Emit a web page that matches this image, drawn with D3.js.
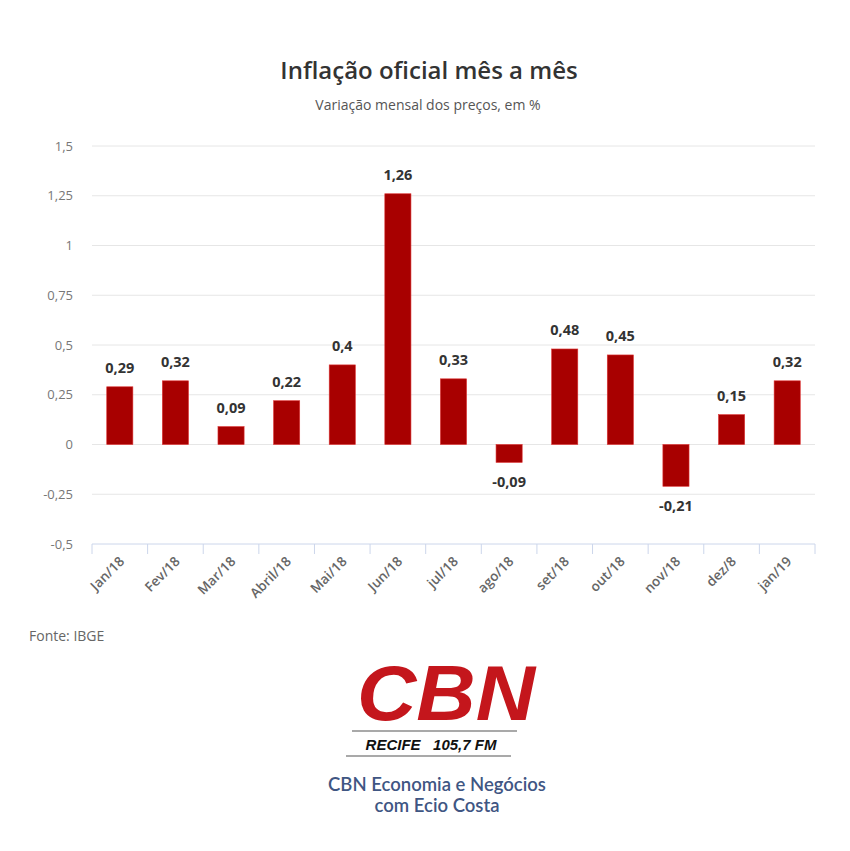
<!DOCTYPE html>
<html>
<head>
<meta charset="utf-8">
<script src="https://d3js.org/d3.v7.min.js"></script>
<style>
  body { margin: 0; background: #fff; }
  svg { display: block; }
</style>
</head>
<body>
<div id="chart"></div>
<script>
const months = ["Jan/18", "Fev/18", "Mar/18", "Abril/18", "Mai/18", "Jun/18", "jul/18",
                "ago/18", "set/18", "out/18", "nov/18", "dez/8", "jan/19"];
const ipca = [0.29, 0.32, 0.09, 0.22, 0.4, 1.26, 0.33, -0.09, 0.48, 0.45, -0.21, 0.15, 0.32];
const yTicks = [-0.5, -0.25, 0, 0.25, 0.5, 0.75, 1, 1.25, 1.5];

const width = 850, height = 851;
const margins = { l: 92, r: 35, t: 146, b: 307 };
const chartWidth = width - margins.l - margins.r;
const chartHeight = height - margins.t - margins.b;

const fmt = v => String(v).replace(".", ",");
const font = "'Open Sans', 'Noto Sans', sans-serif";

const svg = d3.select("#chart").append("svg")
    .attr("width", width)
    .attr("height", height);

// titles
svg.append("text")
    .attr("x", 429).attr("y", 79)
    .attr("text-anchor", "middle")
    .style("font-family", font)
    .style("font-size", "24px")
    .style("font-weight", 600)
    .attr("fill", "#333")
    .text("Inflação oficial mês a mês");

svg.append("text")
    .attr("x", 428).attr("y", 110)
    .attr("text-anchor", "middle")
    .style("font-family", font)
    .style("font-size", "14px")
    .attr("fill", "#555")
    .text("Variação mensal dos preços, em %");

const g = svg.append("g")
    .attr("transform", `translate(${margins.l},${margins.t})`);

const x = d3.scaleBand().domain(months).range([0, chartWidth]).paddingInner(0.53).paddingOuter(0.265);
const y = d3.scaleLinear().domain([-0.5, 1.5]).range([chartHeight, 0]);

// gridlines
g.append("g")
    .selectAll("line")
    .data(yTicks.filter(t => t !== -0.5))
    .enter().append("line")
    .attr("x1", 0).attr("x2", chartWidth)
    .attr("y1", d => y(d)).attr("y2", d => y(d))
    .attr("stroke", "#e6e6e6")
    .attr("stroke-width", 1);

// y axis labels
const yAxis = g.append("g")
    .call(d3.axisLeft(y).tickValues(yTicks).tickFormat(fmt).tickSize(0).tickPadding(19));
yAxis.select(".domain").remove();
yAxis.selectAll("text")
    .style("font-family", font)
    .style("font-size", "13px")
    .attr("fill", "#777");

// x axis
const xStep = x.step();
const xAxis = g.append("g")
    .attr("transform", `translate(0,${chartHeight})`);
xAxis.append("line")
    .attr("x1", 0).attr("x2", chartWidth)
    .attr("stroke", "#ccd6eb");
xAxis.selectAll(".tick-mark")
    .data(d3.range(months.length + 1))
    .enter().append("line")
    .attr("class", "tick-mark")
    .attr("x1", i => i * xStep).attr("x2", i => i * xStep)
    .attr("y1", 0).attr("y2", 10)
    .attr("stroke", "#ccd6eb");
xAxis.selectAll(".xlabel")
    .data(months)
    .enter().append("text")
    .attr("class", "xlabel")
    .attr("transform", d => `translate(${x(d) + x.bandwidth() / 2 + 2},${15}) rotate(-45)`)
    .attr("text-anchor", "end")
    .attr("dy", "0.35em")
    .style("font-family", font)
    .style("font-size", "13.5px")
    .style("font-weight", 600)
    .attr("fill", "#666")
    .text(d => d);

// bars
const bars = months.map((m, i) => ({ month: m, value: ipca[i] }));
g.selectAll(".bar")
    .data(bars)
    .enter().append("rect")
    .attr("class", "bar")
    .attr("x", d => x(d.month))
    .attr("y", d => y(Math.max(0, d.value)))
    .attr("width", x.bandwidth())
    .attr("height", d => Math.abs(y(d.value) - y(0)))
    .attr("fill", "#a80000")
    .attr("stroke", "#d33")
    .attr("stroke-width", 0.6);

// data labels
g.selectAll(".val")
    .data(bars)
    .enter().append("text")
    .attr("class", "val")
    .attr("x", d => x(d.month) + x.bandwidth() / 2)
    .attr("y", d => d.value >= 0 ? y(d.value) - 14 : y(d.value) + 25)
    .attr("text-anchor", "middle")
    .style("font-family", font)
    .style("font-size", "14.5px")
    .style("font-weight", 700)
    .attr("fill", "#333")
    .text(d => fmt(d.value));

// source
svg.append("text")
    .attr("x", 29).attr("y", 641)
    .style("font-family", font)
    .style("font-size", "14px")
    .attr("fill", "#666")
    .text("Fonte: IBGE");

// CBN logo
svg.append("text")
    .attr("x", 357).attr("y", 720)
    .attr("textLength", 178)
    .attr("lengthAdjust", "spacingAndGlyphs")
    .style("font-family", "'Liberation Sans', Arial, sans-serif")
    .style("font-size", "78px")
    .style("font-weight", 700)
    .style("font-style", "italic")
    .attr("fill", "#c4161c")
    .text("CBN");

svg.append("line")
    .attr("x1", 352).attr("x2", 517).attr("y1", 731).attr("y2", 731)
    .attr("stroke", "#555").attr("stroke-width", 1.2);
svg.append("text")
    .attr("x", 431).attr("y", 750)
    .attr("text-anchor", "middle")
    .style("font-family", "'Liberation Sans', Arial, sans-serif")
    .style("font-size", "15px")
    .style("font-weight", 700)
    .style("font-style", "italic")
    .style("white-space", "pre")
    .attr("fill", "#111")
    .text("RECIFE   105,7 FM");
svg.append("line")
    .attr("x1", 346).attr("x2", 511).attr("y1", 756).attr("y2", 756)
    .attr("stroke", "#555").attr("stroke-width", 1.2);

svg.append("text")
    .attr("x", 437).attr("y", 791)
    .attr("text-anchor", "middle")
    .style("font-family", "Lato, 'Open Sans', sans-serif")
    .style("font-size", "18.5px")
    .style("font-weight", 600)
    .attr("fill", "#3f5683")
    .text("CBN Economia e Negócios");
svg.append("text")
    .attr("x", 437).attr("y", 812)
    .attr("text-anchor", "middle")
    .style("font-family", "Lato, 'Open Sans', sans-serif")
    .style("font-size", "18.5px")
    .style("font-weight", 600)
    .attr("fill", "#3f5683")
    .text("com Ecio Costa");
</script>
</body>
</html>
